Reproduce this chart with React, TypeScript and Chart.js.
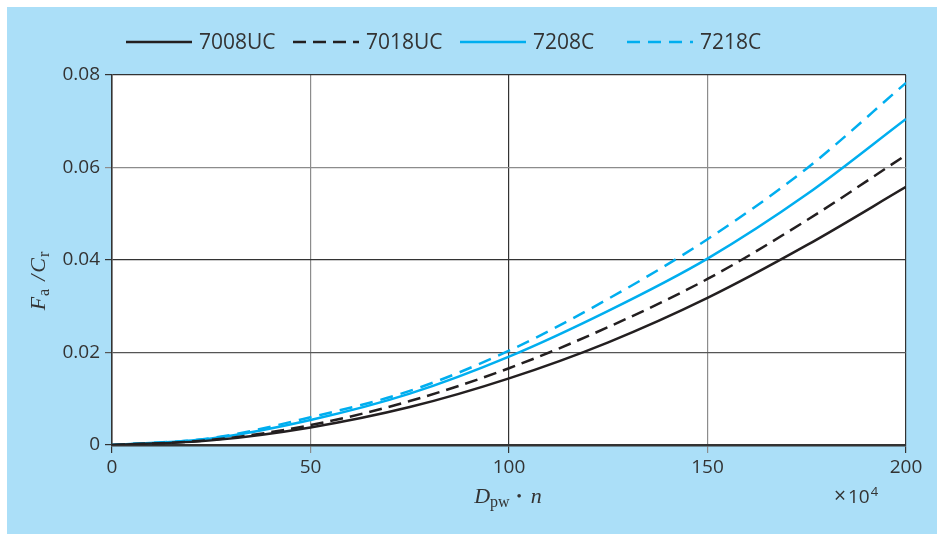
import React, { useEffect, useRef } from 'react';
import { Chart, registerables } from 'chart.js';
Chart.register(...registerables);

const xValues = [0, 25, 50, 75, 100, 125, 150, 175, 200];
const s7008UC = [0, 0.001, 0.0038, 0.0082, 0.0144, 0.0222, 0.0318, 0.0432, 0.0558];
const s7018UC = [0, 0.0011, 0.0043, 0.0095, 0.0166, 0.0255, 0.0359, 0.0486, 0.0627];
const s7208C = [0, 0.0014, 0.0054, 0.0111, 0.0191, 0.029, 0.0403, 0.0542, 0.0705];
const s7218C = [0, 0.0015, 0.006, 0.0117, 0.0204, 0.0316, 0.0445, 0.0598, 0.0783];
const seriesNames = ['7008UC', '7018UC', '7208C', '7218C'];
const xMin = 0, xMax = 200, xStep = 50;
const yMin = 0, yMax = 0.08, yStep = 0.02;

const BG = '#abdff8';
const BLACK = '#231f20';
const BLUE = '#00aeef';
const TEXT = '#333333';
const SANS = '"Open Sans", "Noto Sans", sans-serif';
const SERIF = '"Liberation Serif", "DejaVu Serif", serif';

const xGridColor = (v: number) => {
  const k = Math.round(v);
  if (k === 50 || k === 150) return '#8c8c8c';
  return '#333333';
};
const yGridColor = (v: number) => {
  const k = Math.round(v * 100);
  if (k === 6) return '#8c8c8c';
  if (k === 2) return '#555555';
  return '#333333';
};

type Part = { t: string; f: string; dy?: number; gap?: number };
function drawParts(ctx: CanvasRenderingContext2D, parts: Part[], cx: number, baseline: number, align: 'center' | 'left') {
  let total = 0;
  const widths = parts.map((p) => { ctx.font = p.f; const w = ctx.measureText(p.t).width; total += w + (p.gap || 0); return w; });
  let x = align === 'center' ? cx - total / 2 : cx;
  ctx.textAlign = 'left';
  ctx.textBaseline = 'alphabetic';
  parts.forEach((p, i) => {
    x += p.gap || 0;
    ctx.font = p.f;
    ctx.fillText(p.t, x, baseline + (p.dy || 0));
    x += widths[i];
  });
}

const decorPlugin = {
  id: 'decor',
  beforeDraw(chart: any) {
    const { ctx, chartArea: a, width, height } = chart;
    ctx.save();
    ctx.fillStyle = BG;
    ctx.fillRect(0, 0, width, height);
    ctx.fillStyle = '#ffffff';
    ctx.fillRect(a.left, a.top, a.right - a.left, a.bottom - a.top);
    ctx.restore();
  },
  afterDraw(chart: any) {
    const { ctx } = chart;
    ctx.save();
    // legend
    chart.data.datasets.forEach((ds: any, i: number) => {
      const x0 = 119 + i * 167;
      const y = 35;
      ctx.strokeStyle = ds.borderColor;
      ctx.lineWidth = ds.borderWidth;
      ctx.setLineDash(ds.borderDash || []);
      ctx.beginPath();
      ctx.moveTo(x0, y);
      ctx.lineTo(x0 + 66, y);
      ctx.stroke();
      ctx.setLineDash([]);
      ctx.fillStyle = TEXT;
      ctx.font = `21px ${SANS}`;
      ctx.textAlign = 'left';
      ctx.textBaseline = 'middle';
      ctx.fillText(ds.label, x0 + 73, y + 1);
    });
    // y title
    ctx.fillStyle = TEXT;
    ctx.save();
    ctx.translate(38, 274);
    ctx.rotate(-Math.PI / 2);
    drawParts(ctx, [
      { t: 'F', f: `italic 22px ${SERIF}` },
      { t: 'a', f: `16px ${SERIF}`, dy: 4, gap: 1 },
      { t: '/', f: `italic 22px ${SERIF}`, gap: 8 },
      { t: 'C', f: `italic 22px ${SERIF}`, gap: 2 },
      { t: 'r', f: `16px ${SERIF}`, dy: 4, gap: 1 },
    ], 0, 0, 'center');
    ctx.restore();
    // x title
    drawParts(ctx, [
      { t: 'D', f: `italic 22px ${SERIF}` },
      { t: 'pw', f: `16px ${SERIF}`, dy: 4 },
      { t: '\u2022', f: `15px ${SERIF}`, dy: -2, gap: 7 },
      { t: 'n', f: `italic 22px ${SERIF}`, gap: 9 },
    ], 501, 496, 'center');
    // multiplier
    drawParts(ctx, [
      { t: '\u00d7', f: `21px ${SANS}` },
      { t: '10', f: `19px ${SANS}`, gap: 2 },
      { t: '4', f: `13px ${SANS}`, dy: -7, gap: 1 },
    ], 827, 496, 'left');
    ctx.restore();
  },
};

export default function App() {
  const ref = useRef<HTMLCanvasElement>(null);
  useEffect(() => {
    const series = [s7008UC, s7018UC, s7208C, s7218C];
    const colors = [BLACK, BLACK, BLUE, BLUE];
    const dashes = [[], [13, 7], [], [13, 8]];
    const chart = new Chart(ref.current as HTMLCanvasElement, {
      type: 'line',
      data: {
        datasets: series.map((s, i) => ({
          label: seriesNames[i],
          data: xValues.map((x, j) => ({ x, y: s[j] })),
          borderColor: colors[i],
          backgroundColor: colors[i],
          borderWidth: 2.5,
          borderDash: dashes[i],
          pointRadius: 0,
          cubicInterpolationMode: 'monotone',
          fill: false,
        })),
      },
      options: {
        animation: false,
        responsive: false,
        events: [],
        layout: { padding: { left: 0, right: 31, top: 68, bottom: 0 } },
        plugins: { legend: { display: false }, tooltip: { enabled: false }, title: { display: false } },
        scales: {
          x: {
            type: 'linear',
            min: xMin,
            max: xMax,
            afterFit: (s: any) => { s.height = 89; },
            ticks: { stepSize: xStep, color: TEXT, font: { family: SANS, size: 19 }, padding: 3, maxRotation: 0 },
            grid: {
              color: (c: any) => xGridColor(c.tick.value),
              tickColor: (c: any) => xGridColor(c.tick.value),
              lineWidth: 1.2,
              tickLength: 8,
            },
            border: { display: true, color: '#333333', width: 2.5 },
          },
          y: {
            min: yMin,
            max: yMax,
            afterFit: (s: any) => { s.width = 105; },
            ticks: {
              stepSize: yStep,
              color: TEXT,
              font: { family: SANS, size: 19 },
              padding: 5,
              callback: (v: any) => (Number(v) === 0 ? '0' : Number(v).toFixed(2)),
            },
            grid: {
              color: (c: any) => yGridColor(c.tick.value),
              tickColor: (c: any) => yGridColor(c.tick.value),
              lineWidth: 1.2,
              tickLength: 7,
            },
            border: { display: true, color: '#333333', width: 1.5 },
          },
        },
      },
      plugins: [decorPlugin],
    } as any);
    return () => chart.destroy();
  }, []);
  return (
    <div style={{ position: 'fixed', left: 7, top: 7, width: 930, height: 527 }}>
      <canvas ref={ref} width={930} height={527} style={{ display: 'block', width: 930, height: 527 }} />
    </div>
  );
}
